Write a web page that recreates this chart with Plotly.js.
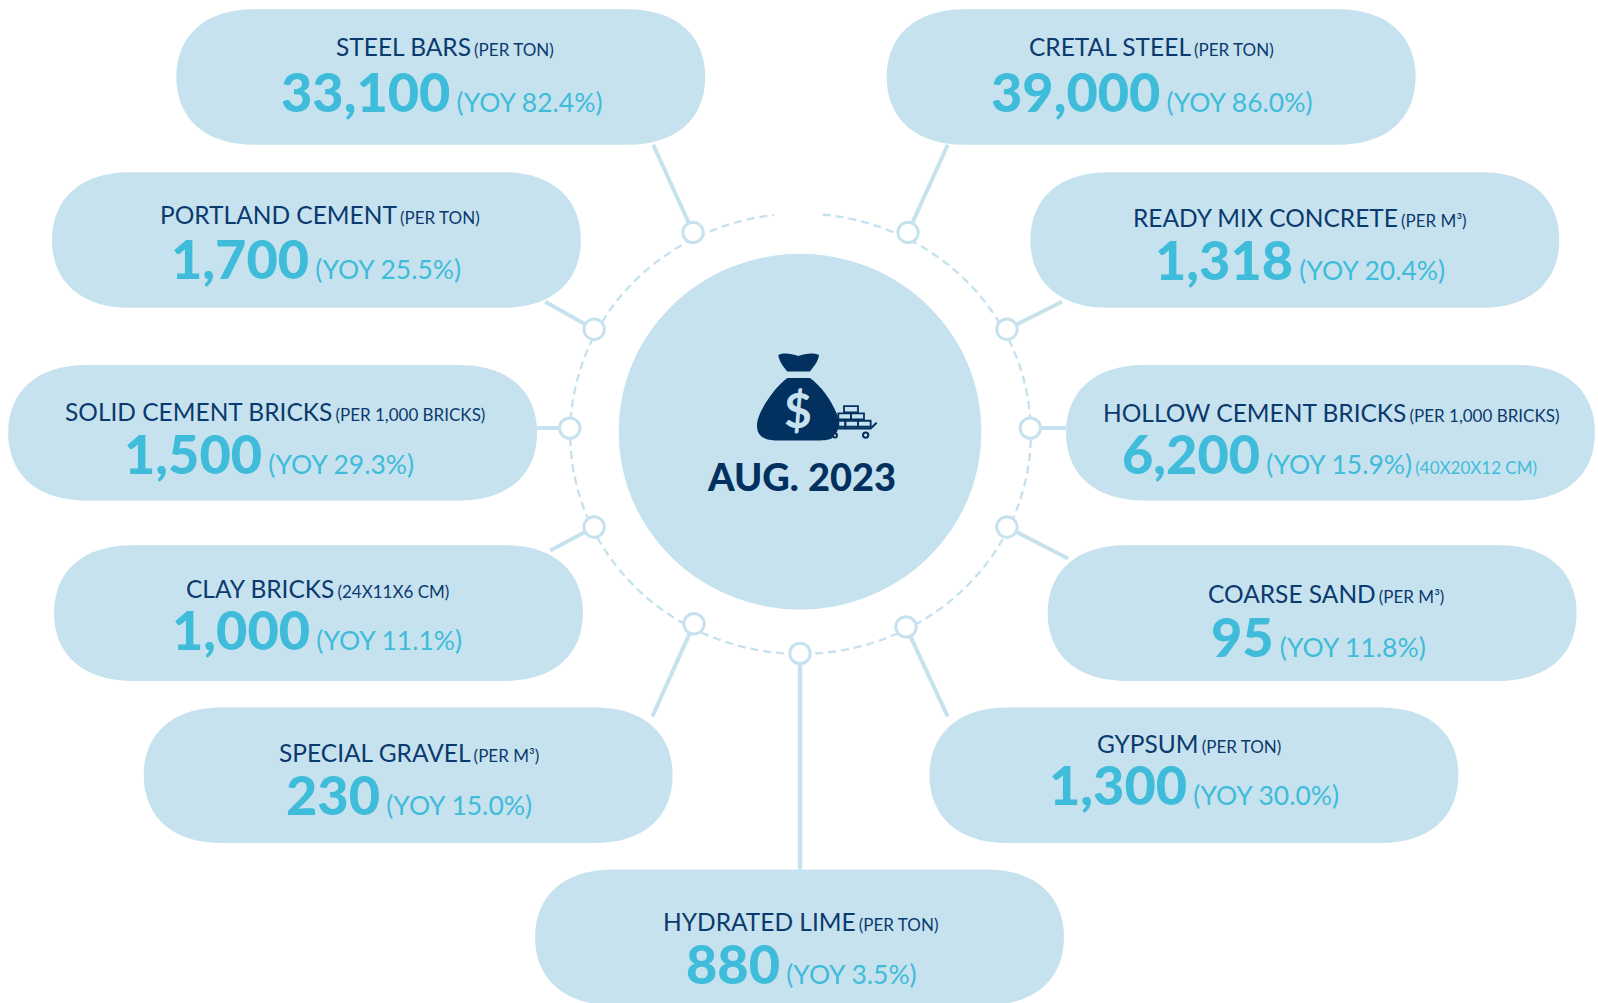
<!DOCTYPE html>
<html><head><meta charset="utf-8">
<script src="https://cdn.plot.ly/plotly-3.0.1.min.js"></script>
<style>html,body{margin:0;padding:0;background:#fff}#c{width:1598px;height:1003px}</style></head>
<body><div id="c"></div>
<script>
// ---- chart content ----
const materials=["STEEL BARS","CRETAL STEEL","PORTLAND CEMENT","READY MIX CONCRETE","SOLID CEMENT BRICKS","HOLLOW CEMENT BRICKS","CLAY BRICKS","COARSE SAND","SPECIAL GRAVEL","GYPSUM","HYDRATED LIME"];
const units=["(PER TON)","(PER TON)","(PER TON)","(PER M³)","(PER 1,000 BRICKS)","(PER 1,000 BRICKS)","(24X11X6 CM)","(PER M³)","(PER M³)","(PER TON)","(PER TON)"];
const prices=["33,100","39,000","1,700","1,318","1,500","6,200","1,000","95","230","1,300","880"];
const yoy=["82.4%","86.0%","25.5%","20.4%","29.3%","15.9%","11.1%","11.8%","15.0%","30.0%","3.5%"];
const notes=["","","","","","(40X20X12 CM)","","","","",""];
const centreLabel="AUG. 2023";
// ---- layout (in a 1568x984 drawing space) ----
const pillX=[173,870,51,1011,8,1046,53,1028,141,912,525];
const pillY=[9,9,169,169,358,358,535,535,694,694,853];
const titleX=[436.5,1130,313.5,1276,269.5,1306,312,1301,401,1166.5,785];
const titleY=[46,46,210,213,404,405,577,582,738,729,904];
const valueX=[433,1130,310.5,1275.5,263.5,1304.5,311,1294,401.5,1171.5,786];
const valueY=[90,90,254,255,445,445,618,624,779,770,945];
const linkFrom=[[641,142],[930,142],[535,296],[1042,296],[527,420],[1046,420],[540,540],[1048,548],[640,703],[930,703],[785,853]];
const nodes=[[680,228],[891,228],[583,323],[988,323],[559,420],[1011,420],[583,517],[988,517],[681,612],[889,615],[785,641]];
const PW=519,PH=133;
const LIGHT="#c7e2ef",NAVY="#0b3a6e",CYAN="#3fbcd9",DARK="#02305f";
const shapes=[],ann=[];
const cx=785.5,cy=425.5,rx=226,ry=216;
// dashed ring, from one side of the top gap round to the other
let ring="";
for(let a=-84.5;a<=264.2;a+=1.5){const t=a*Math.PI/180;ring+=(ring?"L":"M")+(cx+rx*Math.cos(t)).toFixed(1)+","+(cy+ry*Math.sin(t)).toFixed(1);}
shapes.push({type:"path",path:ring,line:{color:LIGHT,width:2.4,dash:"8px,5px"},xref:"x",yref:"y"});
// connectors
linkFrom.forEach((p,i)=>shapes.push({type:"line",x0:p[0],y0:p[1],x1:nodes[i][0],y1:nodes[i][1],line:{color:LIGHT,width:i===10?4.5:4}}));
// pills
materials.forEach((m,i)=>{const x=pillX[i],y=pillY[i],X=x+PW,Y=y+PH,r=76,h=PH/2,k=.62;
 shapes.push({type:"path",fillcolor:LIGHT,line:{width:0},path:
 `M${x+r},${y}L${X-r},${y}C${X-r+r*k},${y} ${X},${y+h-h*k} ${X},${y+h}C${X},${y+h+h*k} ${X-r+r*k},${Y} ${X-r},${Y}L${x+r},${Y}C${x+r-r*k},${Y} ${x},${y+h+h*k} ${x},${y+h}C${x},${y+h-h*k} ${x+r-r*k},${y} ${x+r},${y}Z`});
 ann.push({x:titleX[i],y:titleY[i],text:`<span style="font-size:24.5px">${m}</span> <span style="font-size:17px">${units[i]}</span>`,font:{color:NAVY}});
 let t=`<span style="font-size:54px;font-weight:900">${prices[i]}</span>  <span style="font-size:26.5px">(YOY ${yoy[i]})</span>`;
 if(notes[i]) t+=` <span style="font-size:17px">${notes[i]}</span>`;
 ann.push({x:valueX[i],y:valueY[i],text:t,font:{color:CYAN}});
});
// nodes
nodes.forEach(n=>shapes.push({type:"circle",x0:n[0]-10,x1:n[0]+10,y0:n[1]-10,y1:n[1]+10,fillcolor:"#fff",line:{color:LIGHT,width:3}}));
// centre disc
shapes.push({type:"circle",x0:607,x1:963,y0:249,y1:598,fillcolor:LIGHT,line:{width:0}});
// icon, traced in a small local grid of the reference
const S=1598/1568,px=v=>(700+v/3)/S,py=v=>(330+v/3)/S;
const P=s=>s.replace(/(-?[\d.]+),(-?[\d.]+)/g,(m,a,b)=>px(+a).toFixed(1)+","+py(+b).toFixed(1));
shapes.push({type:"path",fillcolor:DARK,line:{width:0},path:P("M235,75 C255,66 275,72 295,78 C315,72 335,66 357,75 C355,95 340,110 330,124 L262,124 C250,110 238,95 235,75 Z")});
shapes.push({type:"path",fillcolor:DARK,line:{width:0},path:P("M262,144 L330,144 C360,165 395,210 412,255 C418,285 418,305 395,325 C385,330 370,331 340,331 L225,331 C190,331 170,315 171,285 C172,245 225,170 262,144 Z")});
[[432,228,474,247],[415,250,453,268],[453,250,492,268],[415,272,436,290],[436,272,474,290],[474,272,512,290]].forEach(b=>
 shapes.push({type:"rect",x0:px(b[0]),y0:py(b[1]),x1:px(b[2]),y1:py(b[3]),line:{color:DARK,width:1.8},fillcolor:"rgba(0,0,0,0)"}));
shapes.push({type:"path",path:P("M400,295 L512,295 L530,278"),line:{color:DARK,width:2}});
[[405,316,6],[497,315,8]].forEach(w=>shapes.push({type:"circle",x0:px(w[0]-w[2]),x1:px(w[0]+w[2]),y0:py(w[1]-w[2]),y1:py(w[1]+w[2]),fillcolor:LIGHT,line:{color:DARK,width:2}}));
ann.push({x:px(295),y:py(238),text:"<b>$</b>",font:{color:LIGHT,size:48}});
ann.push({x:786.5,y:467,text:`<span style="font-weight:900">${centreLabel}</span>`,font:{color:DARK,size:38}});
ann.forEach(a=>Object.assign(a,{xref:"x",yref:"y",showarrow:false,xanchor:"center",yanchor:"middle",align:"center",borderpad:0}));
ann.forEach(a=>a.font=Object.assign({family:"Lato"},a.font));
shapes.forEach(s=>{s.xref="x";s.yref="y";s.layer="above";});
Plotly.newPlot("c",[{type:"scatter",x:[],y:[],showlegend:false}],{
 width:1598,height:1003,margin:{l:0,r:0,t:0,b:0},paper_bgcolor:"#fff",plot_bgcolor:"#fff",showlegend:false,
 xaxis:{range:[0,1568],visible:false,fixedrange:true},yaxis:{range:[984,0],visible:false,fixedrange:true},
 shapes:shapes,annotations:ann},{displayModeBar:false,staticPlot:true});
</script></body></html>
